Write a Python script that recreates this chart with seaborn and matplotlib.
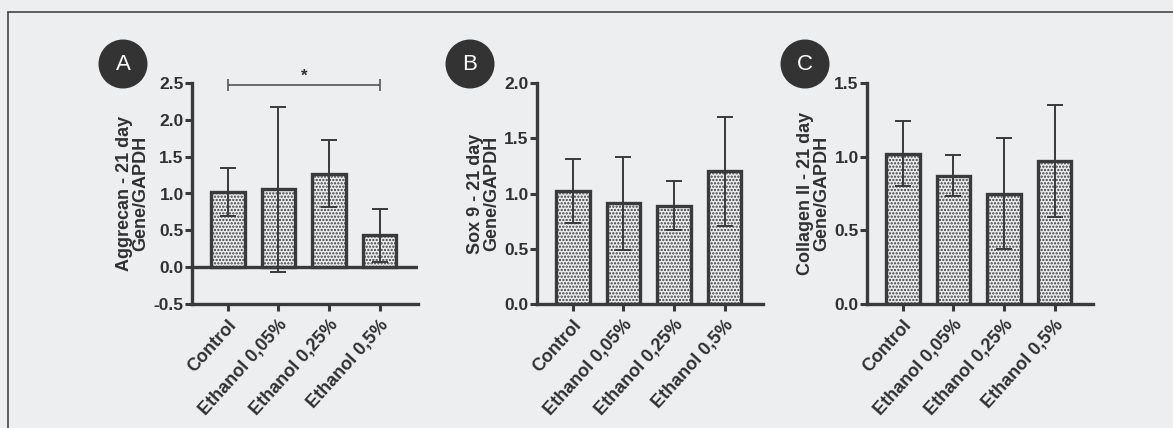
import numpy as np
import pandas as pd
import matplotlib
matplotlib.use("Agg")
import matplotlib.pyplot as plt
from matplotlib.patches import Circle
import seaborn as sns

# groups on the x axis
groups = ["Control", "Ethanol 0,05%", "Ethanol 0,25%", "Ethanol 0,5%"]

# mean and SD per gene
aggrecan_mean = [1.02, 1.06, 1.27, 0.43]
aggrecan_sd = [0.33, 1.12, 0.46, 0.36]
sox9_mean = [1.02, 0.91, 0.89, 1.20]
sox9_sd = [0.29, 0.42, 0.22, 0.49]
col2_mean = [1.02, 0.87, 0.75, 0.97]
col2_sd = [0.22, 0.14, 0.38, 0.38]

panel_letters = ["A", "B", "C"]
y_labels = ["Aggrecan - 21 day\nGene/GAPDH",
            "Sox 9 - 21 day\nGene/GAPDH",
            "Collagen II - 21 day\nGene/GAPDH"]
y_limits = [(-0.5, 2.5), (0.0, 2.0), (0.0, 1.5)]
y_ticks = [[-0.5, 0.0, 0.5, 1.0, 1.5, 2.0, 2.5],
           [0.0, 0.5, 1.0, 1.5, 2.0],
           [0.0, 0.5, 1.0, 1.5]]

paper = "#eceef0"
ink = "#3a3a3a"
text_c = "#303030"

sns.set_theme(style="ticks")
plt.rcParams["font.family"] = ["Liberation Sans", "DejaVu Sans"]
plt.rcParams["font.weight"] = "bold"
plt.rcParams["hatch.linewidth"] = 1.1
plt.rcParams["hatch.color"] = "#505050"

W, H = 1173, 428
fig = plt.figure(figsize=(W / 100, H / 100), dpi=100, facecolor=paper)

# frame of the scanned page
fig.add_artist(plt.Line2D([8 / W, 1.0], [1 - 12 / H, 1 - 12 / H],
                          transform=fig.transFigure, color="#444444", lw=1.2))
fig.add_artist(plt.Line2D([8 / W, 8 / W], [0.0, 1 - 12 / H],
                          transform=fig.transFigure, color="#444444", lw=1.2))

lefts = [192, 537, 867]
circle_x = [123, 470, 805]
data = [(aggrecan_mean, aggrecan_sd), (sox9_mean, sox9_sd), (col2_mean, col2_sd)]

for i, (mean, sd) in enumerate(data):
    ax = fig.add_axes([lefts[i] / W, 1 - 304 / H, 226 / W, 221 / H])
    ax.set_facecolor(paper)
    df = pd.DataFrame({"group": groups, "value": mean})
    sns.barplot(data=df, x="group", y="value", ax=ax, width=0.66,
                color=paper, edgecolor=ink, linewidth=2.4, errorbar=None,
                zorder=2)
    for p in ax.patches:
        p.set_hatch(".....")
    ax.errorbar(range(len(groups)), mean, yerr=sd, fmt="none",
                ecolor=ink, elinewidth=1.4, capsize=6, capthick=1.4,
                zorder=3)

    sns.despine(ax=ax)
    for s in ["left", "bottom"]:
        ax.spines[s].set_linewidth(2.4)
        ax.spines[s].set_color(ink)
    if y_limits[i][0] < 0:
        # line at zero in panel A
        ax.axhline(0, color=ink, lw=2.4, zorder=1)

    ax.set_xlim(-0.71, 3.76)
    ax.set_ylim(*y_limits[i])
    ax.set_yticks(y_ticks[i])
    ax.set_yticklabels([f"{t:.1f}" for t in y_ticks[i]], fontsize=12.5,
                       fontweight="bold", color=text_c)
    ax.set_xticks(range(len(groups)))
    ax.set_xticklabels(groups, rotation=48, ha="right",
                       rotation_mode="anchor", fontsize=13,
                       fontweight="bold", color=text_c)
    ax.set_xlabel("")
    ax.set_ylabel(y_labels[i], fontsize=13, fontweight="bold",
                  color=text_c, labelpad=3, linespacing=0.95)
    ax.tick_params(axis="both", direction="out", length=5, width=2.2,
                   color=ink, pad=1)
    ax.tick_params(axis="x", pad=4)

    # round panel letter
    fig.add_artist(Circle((circle_x[i] / 100, (H - 64) / 100), 0.245,
                          transform=fig.dpi_scale_trans,
                          facecolor="#333333", edgecolor="none"))
    fig.text(circle_x[i] / W, 1 - 64 / H, panel_letters[i], color="white",
             fontsize=16, fontweight="normal", ha="center", va="center")

    if i == 0:
        # significance bracket Control vs Ethanol 0,5%
        ax.errorbar([1.5], [2.47], xerr=[[1.5], [1.5]], fmt="none",
                    ecolor="#555555", elinewidth=1.2, capsize=4,
                    capthick=1.2, clip_on=False)
        ax.text(1.5, 2.49, "*", ha="center", va="bottom", fontsize=12,
                fontweight="bold", color=text_c, clip_on=False)

fig.savefig("out.png", dpi=100, facecolor=paper)
